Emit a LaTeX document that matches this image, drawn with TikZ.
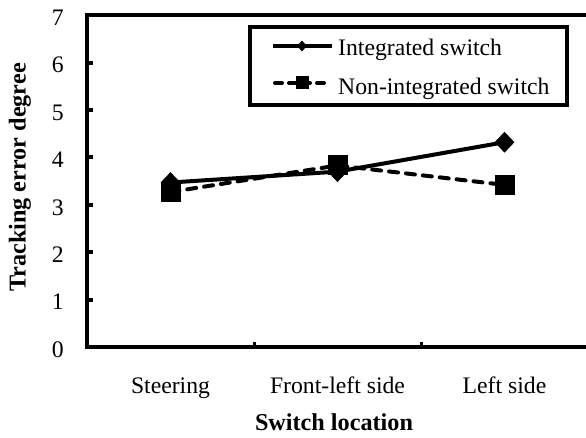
\documentclass[tikz,border=0pt]{standalone}
\usepackage{fontspec}
\setmainfont{Liberation Serif}
\usetikzlibrary{shapes.geometric, positioning}

\newcommand{\titolofont}{\fontsize{24.2}{29}\selectfont\bfseries}

\tikzset{
  asse/.style={line width=4pt},
  serie/.style={line width=4pt},
  tratteggio/.style={serie, line cap=round, dash pattern=on 9pt off 8pt},
  rombo/.style={diamond, fill=black, inner sep=0pt, minimum width=20pt, minimum height=21pt},
  quadro/.style={rectangle, fill=black, inner sep=0pt, minimum size=20pt},
}

\begin{document}
\begin{tikzpicture}[x=1pt, y=1pt, font=\fontsize{23.7}{28}\selectfont]
    \useasboundingbox (0,0) rectangle (586,437);
    % Parametri
    \pgfmathsetmacro{\ox}{87}
    \pgfmathsetmacro{\oy}{90}
    \pgfmathsetmacro{\dx}{167}
    \pgfmathsetmacro{\dy}{47.4}
    \begin{scope}[shift={(\ox,\oy)}, x=\dx pt, y=\dy pt]
        % Assi
        \draw[asse] (3,7) -- (0,7) -- (0,0) -- (3,0);
        \foreach \k in {1,...,6}
            \draw[asse] (0,\k) -- ++(6pt,0);
        \foreach \k in {1,2}
            \draw[line width=3pt] (\k,0) -- ++(0,5pt);
        % Etichette asse y
        \foreach \k in {0,...,7}
            \node[anchor=east, inner sep=0pt] (et\k) at ([xshift=-23pt,yshift=-2.5pt]0,\k) {\k};
        % Etichette asse x
        \node[anchor=base] (cat1) at ([yshift=-46pt]0.5,0) {Steering};
        \node[anchor=base] (cat2) at ([yshift=-46pt]1.5,0) {Front-left side};
        \node[anchor=base] (cat3) at ([yshift=-46pt]2.5,0) {Left side};
        % Titoli
        \node (titx) at ([yshift=-75pt]1.479,0) {\titolofont Switch location};
        \node[rotate=90] (tity) at ([xshift=-67pt]0,3.576) {\titolofont Tracking error degree};
        % Dati
        \coordinate (i1) at (0.5,3.47);
        \coordinate (i2) at (1.5,3.70);
        \coordinate (i3) at (2.5,4.32);
        \coordinate (n1) at (0.5,3.27);
        \coordinate (n2) at (1.5,3.83);
        \coordinate (n3) at (2.5,3.42);
        \draw[serie] (i1) -- (i2) -- (i3);
        \foreach \j in {1,2,3}
            \node[rombo] (ri\j) at (i\j) {};
        \draw[tratteggio] (n1) -- (n2) -- (n3);
        \foreach \j in {1,2,3}
            \node[quadro] (qn\j) at (n\j) {};
    \end{scope}
    % Legenda
    \node[draw, line width=3.3pt, inner sep=0pt, minimum width=317pt, minimum height=78pt] (legenda) at (408.5,371) {};
    \coordinate (li0) at (273,391);
    \coordinate (li1) at (332,391);
    \draw[serie] (li0) -- (li1);
    \node[rombo, minimum width=10pt, minimum height=11pt] (lri) at (302,391) {};
    \node[anchor=base west, inner sep=0pt] (lti) at (338,381.4) {Integrated switch};
    \coordinate (ln0) at (275,354);
    \coordinate (ln1) at (330,354);
    \draw[serie, line cap=round, dash pattern=on 7pt off 7pt] (ln0) -- (ln1);
    \node[quadro, minimum size=13pt] (lqn) at (302,354) {};
    \node[anchor=base west, inner sep=0pt] (ltn) at (338,342.4) {Non-integrated switch};
\end{tikzpicture}
\end{document}
